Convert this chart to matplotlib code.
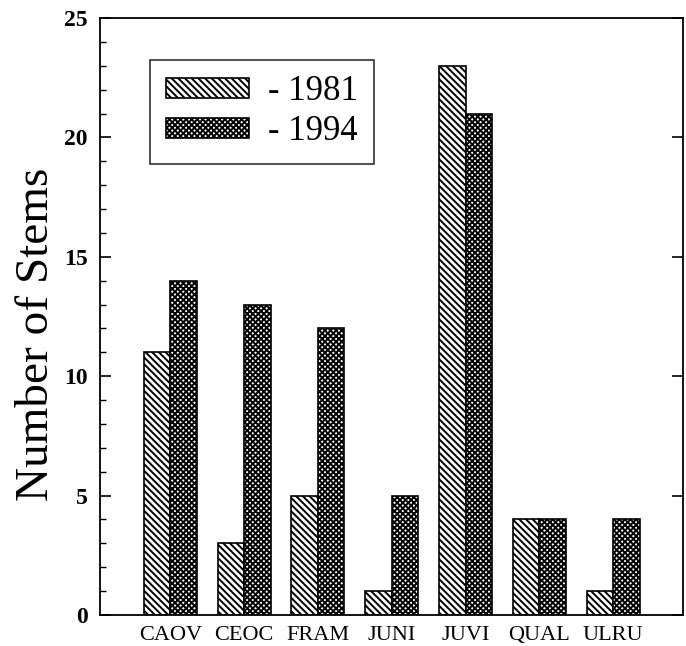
import matplotlib
matplotlib.use("Agg")
from matplotlib import pyplot as plt
from matplotlib.ticker import MultipleLocator
import numpy as np

species = ["CAOV", "CEOC", "FRAM", "JUNI", "JUVI", "QUAL", "ULRU"]
stems_1981 = [11, 3, 5, 1, 23, 4, 1]
stems_1994 = [14, 13, 12, 5, 21, 4, 4]

plt.rcParams["font.family"] = ["Liberation Serif", "DejaVu Serif"]
plt.rcParams["hatch.linewidth"] = 1.4

fig = plt.figure(figsize=(6.86, 6.46), dpi=100)
ax = fig.add_axes([0.146, 0.048, 0.85, 0.924])

x = np.arange(len(species))
width = 0.36
b1 = ax.bar(x - width / 2, stems_1981, width, facecolor="white",
            edgecolor="black", hatch="\\\\\\\\\\", linewidth=1.2)
b2 = ax.bar(x + width / 2, stems_1994, width, facecolor="white",
            edgecolor="black", hatch="xxxxxx", linewidth=1.2)

ax.set_xlim(-0.95, 6.95)
ax.set_ylim(0, 25)
ax.set_xticks(x)
ax.set_xticklabels(species, fontsize=16)
ax.tick_params(axis="x", length=0, pad=8)

ax.yaxis.set_major_locator(MultipleLocator(5))
ax.yaxis.set_minor_locator(MultipleLocator(1))
ax.tick_params(axis="y", which="major", direction="in", length=8, width=1.2,
               labelsize=17, right=True, pad=9)
ax.tick_params(axis="y", which="minor", direction="in", length=4, width=1.0)
for lab in ax.get_yticklabels():
    lab.set_fontweight("bold")
ax.set_ylabel("Number of Stems", fontsize=34)
ax.yaxis.set_label_coords(-0.072, 0.47)

for s in ax.spines.values():
    s.set_linewidth(1.3)

leg = ax.legend([b1, b2], ["- 1981", "- 1994"], loc="upper left",
                bbox_to_anchor=(0.086, 0.93), borderaxespad=0, fontsize=25,
                frameon=True, fancybox=False, edgecolor="black",
                handlelength=2.4, handleheight=0.52, handletextpad=0.55,
                borderpad=0.45, labelspacing=0.2)
leg.get_frame().set_linewidth(1.2)

fig.savefig("out.png", dpi=100)
